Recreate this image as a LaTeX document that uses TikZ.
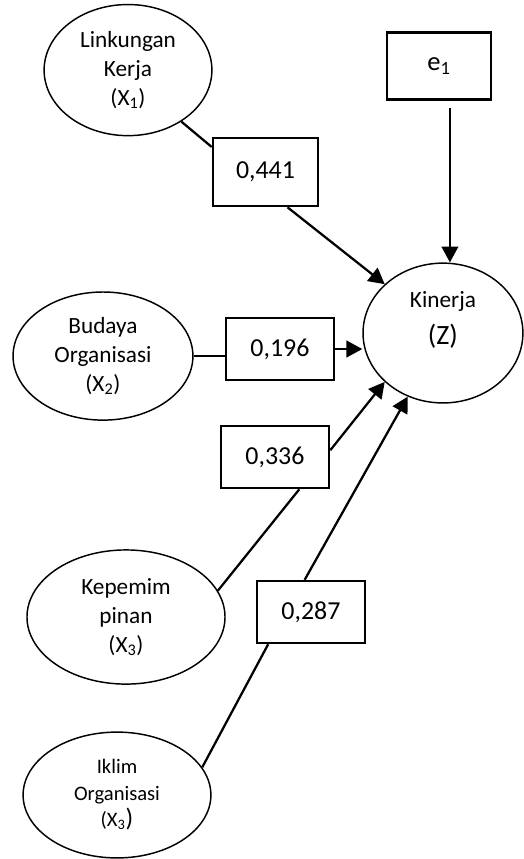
\documentclass[tikz,border=0pt]{standalone}
\usepackage{fontspec}
\setmainfont{Carlito}
\usetikzlibrary{arrows.meta,shapes.geometric}
\tikzset{
  var/.style={draw,ellipse,line width=1.1pt,inner sep=0pt,align=center,
    font=\fontsize{17.5}{21.75}\selectfont},
  coef/.style={draw,rectangle,line width=1.9pt,inner sep=0pt,
    minimum width=2.86cm,minimum height=1.64cm,font=\fontsize{19.5}{23}\selectfont},
  link/.style={line width=1.7pt},
  effect/.style={link,-{Triangle[length=4.2mm,width=4.4mm]}}
}
\begin{document}
\begin{tikzpicture}
\useasboundingbox (0,0) rectangle (13.84,22.73);
\node[var,minimum width=4.44cm,minimum height=3.47cm] (x1) at (3.387,20.875)
  {Linkungan\\Kerja\\(X\textsubscript{1})};
\node[var,minimum width=4.76cm,minimum height=3.39cm] (x2) at (2.725,13.308)
  {Budaya\\Organisasi\\(X\textsubscript{2})};
\node[var,minimum width=5.24cm,minimum height=3.55cm] (x3) at (3.334,6.403)
  {Kepemim\\pinan\\(X\textsubscript{3})};
\node[var,minimum width=4.97cm,minimum height=3.33cm,font=\fontsize{15.5}{20}\selectfont] (x4) at (3.096,1.693)
  {Iklim\\Organisasi\\(X\textsubscript{3}{\fontsize{19}{20}\selectfont)}};
\node[var,minimum width=4.23cm,minimum height=3.70cm] (z) at (11.721,13.917)
  {Kinerja\\[6pt]{\fontsize{21}{25}\selectfont(Z)}\\[1pt]\mbox{}};
\node[coef,minimum width=2.75cm,minimum height=1.77cm,font=\fontsize{20}{24}\selectfont] (e1) at (11.615,20.981)
  {e\textsubscript{1}};
\node[coef,minimum width=2.78cm,minimum height=1.80cm] (b441) at (7.025,18.177) {0,441};
\node[coef] (b196) at (7.408,13.494) {0,196};
\node[coef] (b336) at (7.276,10.636) {0,336};
\node[coef] (b287) at (8.228,6.535) {0,287};
\draw[link] (x1.-44) -- (b441.155);
\draw[effect] (b441.-58) -- (z.140);
\draw[effect] ([xshift=0.29cm,yshift=-0.19cm]e1.south) -- ([xshift=0.29cm]e1.south |- z.north);
\draw[link] (x2.east) -- (b196.west |- x2.east);
\draw[effect] (b196.east) -- (b196.east -| z.west);
\draw[link] (x3.16) -- (b336.-53);
\draw[effect] (b336.7) -- (z.220);
\draw[link] (x4.18) -- (b287.217);
\draw[effect] (b287.101) -- (z.241);
\end{tikzpicture}
\end{document}
